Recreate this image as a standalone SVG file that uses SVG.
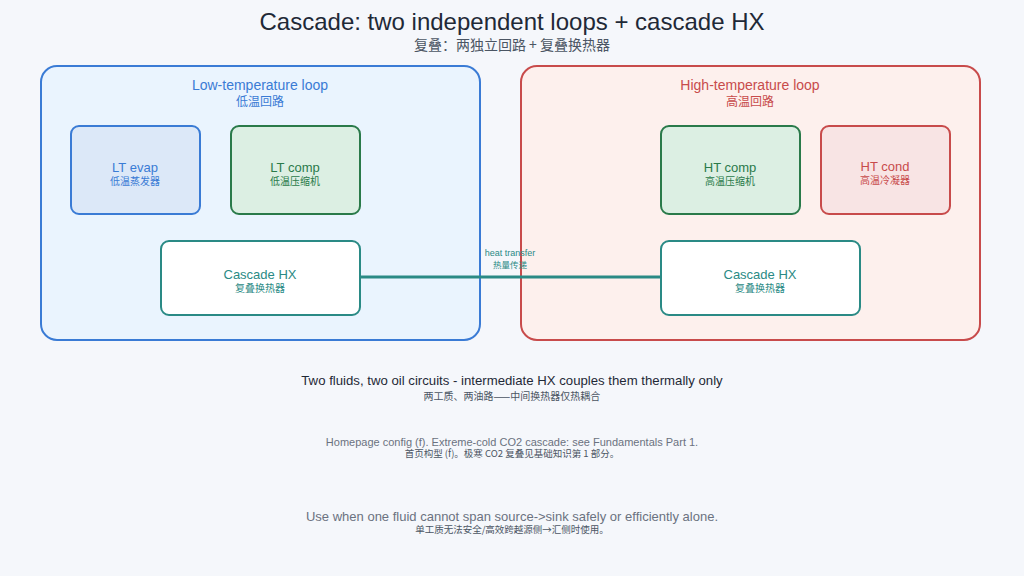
<svg xmlns="http://www.w3.org/2000/svg" width="1024" height="576" viewBox="0 0 1024 576">
<style>
text{font-family:"Liberation Sans","Noto Sans CJK SC",sans-serif;text-anchor:middle}
.cjk{font-family:"Noto Sans CJK SC","Liberation Sans",sans-serif}
.node{stroke-width:2}
.lt{fill:#3a7bd5}
.gr{fill:#2a7a4a}
.rd{fill:#c84b4b}
.tl{fill:#2a8a85}
</style>
<rect width="1024" height="576" fill="#f5f7fb"/>
<g id="title">
<text x="512" y="30" font-size="24" fill="#1f2937">Cascade: two independent loops + cascade HX</text>
<text x="512" y="50" font-size="14" fill="#4b5563" class="cjk">复叠：两独立回路 + 复叠换热器</text>
</g>
<g id="lt-loop">
<rect x="41" y="66" width="439" height="274" rx="16" fill="#eaf4fe" stroke="#3a7bd5" stroke-width="2"/>
<text x="260" y="90" font-size="14" class="lt">Low-temperature loop</text>
<text x="260" y="105.5" font-size="12" class="lt cjk">低温回路</text>
</g>
<g id="ht-loop">
<rect x="521" y="66" width="459" height="274" rx="16" fill="#fdf0ed" stroke="#c84b4b" stroke-width="2"/>
<text x="750" y="90" font-size="14" class="rd">High-temperature loop</text>
<text x="750" y="105.5" font-size="12" class="rd cjk">高温回路</text>
</g>
<g id="connectors">
<line x1="360" y1="277" x2="661" y2="277" stroke="#2a8a85" stroke-width="3"/>
<text x="510" y="256" font-size="9" class="tl">heat transfer</text>
<text x="510" y="268" font-size="8.5" class="tl cjk">热量传递</text>
</g>
<g id="lt-evap">
<rect x="71" y="126" width="129" height="88" rx="8" fill="#dce8f8" stroke="#3a7bd5" class="node"/>
<text x="135" y="172" font-size="13" class="lt">LT evap</text>
<text x="135" y="185" font-size="10" class="lt cjk">低温蒸发器</text>
</g>
<g id="lt-comp">
<rect x="231" y="126" width="129" height="88" rx="8" fill="#dcefe3" stroke="#2a7a4a" class="node"/>
<text x="295" y="172" font-size="13" class="gr">LT comp</text>
<text x="295" y="185" font-size="10" class="gr cjk">低温压缩机</text>
</g>
<g id="ht-comp">
<rect x="661" y="126" width="139" height="88" rx="8" fill="#dcefe3" stroke="#2a7a4a" class="node"/>
<text x="730" y="172" font-size="13" class="gr">HT comp</text>
<text x="730" y="185" font-size="10" class="gr cjk">高温压缩机</text>
</g>
<g id="ht-cond">
<rect x="821" y="126" width="129" height="88" rx="8" fill="#f8e4e4" stroke="#c84b4b" class="node"/>
<text x="885" y="171" font-size="13" class="rd">HT cond</text>
<text x="885" y="184" font-size="10" class="rd cjk">高温冷凝器</text>
</g>
<g id="lt-hx">
<rect x="161" y="241" width="199" height="74" rx="8" fill="#ffffff" stroke="#2a8a85" class="node"/>
<text x="260" y="279" font-size="13" class="tl">Cascade HX</text>
<text x="260" y="292" font-size="10" class="tl cjk">复叠换热器</text>
</g>
<g id="ht-hx">
<rect x="661" y="241" width="199" height="74" rx="8" fill="#ffffff" stroke="#2a8a85" class="node"/>
<text x="760" y="279" font-size="13" class="tl">Cascade HX</text>
<text x="760" y="292" font-size="10" class="tl cjk">复叠换热器</text>
</g>
<g id="notes">
<text x="512" y="385" font-size="13.2" fill="#1f2937">Two fluids, two oil circuits - intermediate HX couples them thermally only</text>
<text x="512" y="399.5" font-size="10" fill="#4b5563" class="cjk">两工质、两油路——中间换热器仅热耦合</text>
<text x="512" y="446" font-size="11" fill="#6b7280">Homepage config (f). Extreme-cold CO2 cascade: see Fundamentals Part 1.</text>
<text x="512" y="457" font-size="9.5" fill="#4b5563" class="cjk">首页构型 (f)。极寒 CO2 复叠见基础知识第 1 部分。</text>
<text x="512" y="521" font-size="13" fill="#6b7280">Use when one fluid cannot span source-&gt;sink safely or efficiently alone.</text>
<text x="512" y="533" font-size="9.5" fill="#4b5563" class="cjk">单工质无法安全/高效跨越源侧→汇侧时使用。</text>
</g>
</svg>
